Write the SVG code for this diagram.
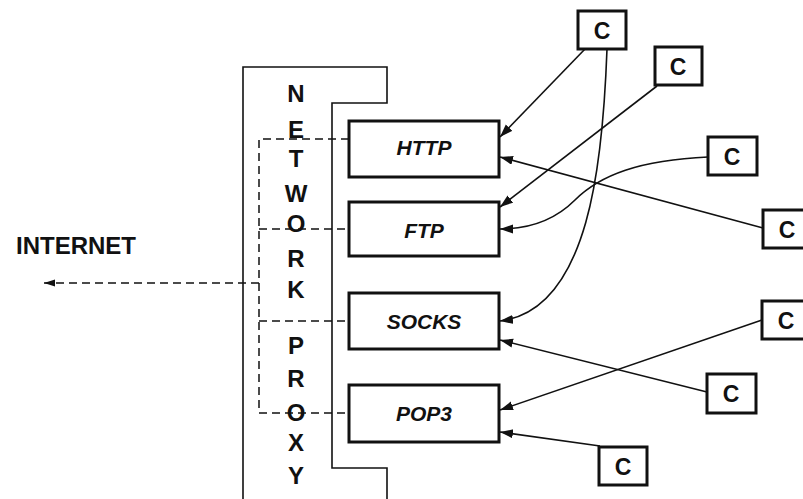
<svg xmlns="http://www.w3.org/2000/svg" width="803" height="499" viewBox="0 0 803 499">
<defs>
<style>
.t{font-family:"Liberation Sans",Arial,sans-serif;font-weight:bold;fill:#111;text-anchor:middle}
.ti{font-family:"Liberation Sans",Arial,sans-serif;font-weight:bold;font-style:italic;fill:#111;text-anchor:middle;font-size:21px}
.box{fill:#fff;stroke:#111;stroke-width:3}
.cb{fill:#fff;stroke:#111;stroke-width:3}
.ln{fill:none;stroke:#111;stroke-width:1.6}
.dash{fill:none;stroke:#111;stroke-width:1.5;stroke-dasharray:8 5}
</style>
<marker id="ah" markerUnits="userSpaceOnUse" markerWidth="14" markerHeight="10" refX="13" refY="4.5" orient="auto">
<path d="M0,0 L13,4.5 L0,9 z" fill="#111"/>
</marker>
<marker id="ahs" markerUnits="userSpaceOnUse" markerWidth="12" markerHeight="8" refX="11" refY="3.5" orient="auto">
<path d="M0,0 L11,3.5 L0,7 z" fill="#111"/>
</marker>
</defs>
<rect width="803" height="499" fill="#fff"/>

<g id="proxy">
<path class="ln" d="M243,499 L243,67 L387,67 L387,103 L332,103 L332,468 L387,468 L387,499"/>
<g class="t" font-size="24">
<text x="296" y="102">N</text>
<text x="296" y="138">E</text>
<text x="296" y="167">T</text>
<text x="296" y="202">W</text>
<text x="296" y="232">O</text>
<text x="296" y="267">R</text>
<text x="296" y="298">K</text>
<text x="296" y="354">P</text>
<text x="296" y="387">R</text>
<text x="296" y="421">O</text>
<text x="296" y="451">X</text>
<text x="296" y="484">Y</text>
</g>
</g>

<g id="internet">
<text class="t" x="76" y="254" font-size="24">INTERNET</text>
</g>

<g id="http"><rect class="box" x="349" y="121" width="150" height="56"/><text class="ti" x="424" y="155">HTTP</text></g>
<g id="ftp"><rect class="box" x="349" y="202" width="150" height="54"/><text class="ti" x="424" y="238">FTP</text></g>
<g id="socks"><rect class="box" x="349" y="293" width="150" height="56"/><text class="ti" x="424" y="329">SOCKS</text></g>
<g id="pop3"><rect class="box" x="349" y="385" width="150" height="57"/><text class="ti" x="424" y="421">POP3</text></g>

<g id="c1"><rect class="cb" x="578" y="11" width="48" height="38"/><text class="t" x="602" y="39" font-size="23">C</text></g>
<g id="c2"><rect class="cb" x="655" y="47" width="47" height="38"/><text class="t" x="678" y="75" font-size="23">C</text></g>
<g id="c3"><rect class="cb" x="708" y="137" width="49" height="38"/><text class="t" x="732" y="165" font-size="23">C</text></g>
<g id="c4"><rect class="cb" x="763" y="210" width="48" height="38"/><text class="t" x="787" y="238" font-size="23">C</text></g>
<g id="c5"><rect class="cb" x="762" y="301" width="48" height="38"/><text class="t" x="786" y="329" font-size="23">C</text></g>
<g id="c6"><rect class="cb" x="707" y="374" width="49" height="39"/><text class="t" x="731" y="402" font-size="23">C</text></g>
<g id="c7"><rect class="cb" x="599" y="447" width="48" height="38"/><text class="t" x="623" y="475" font-size="23">C</text></g>

<g id="connectors">
<path class="dash" d="M349,139 L259,139 L259,413 L349,413"/>
<path class="dash" d="M259,229 L349,229"/>
<path class="dash" d="M259,321 L349,321"/>
<path class="dash" d="M259,283 L44,283" marker-end="url(#ahs)"/>
<path class="ln" d="M585,49 L500,137" marker-end="url(#ah)"/>
<path class="ln" d="M607,49 C603,160 590,310 500,321" marker-end="url(#ah)"/>
<path class="ln" d="M657,86 L500,207" marker-end="url(#ah)"/>
<path class="ln" d="M763,228 L500,157" marker-end="url(#ah)"/>
<path class="ln" d="M708,157 C640,160 600,175 575,200 C555,220 530,229 500,229" marker-end="url(#ah)"/>
<path class="ln" d="M762,320 L500,410" marker-end="url(#ah)"/>
<path class="ln" d="M707,392 L500,340" marker-end="url(#ah)"/>
<path class="ln" d="M600,446 L500,432" marker-end="url(#ah)"/>
</g>
</svg>
